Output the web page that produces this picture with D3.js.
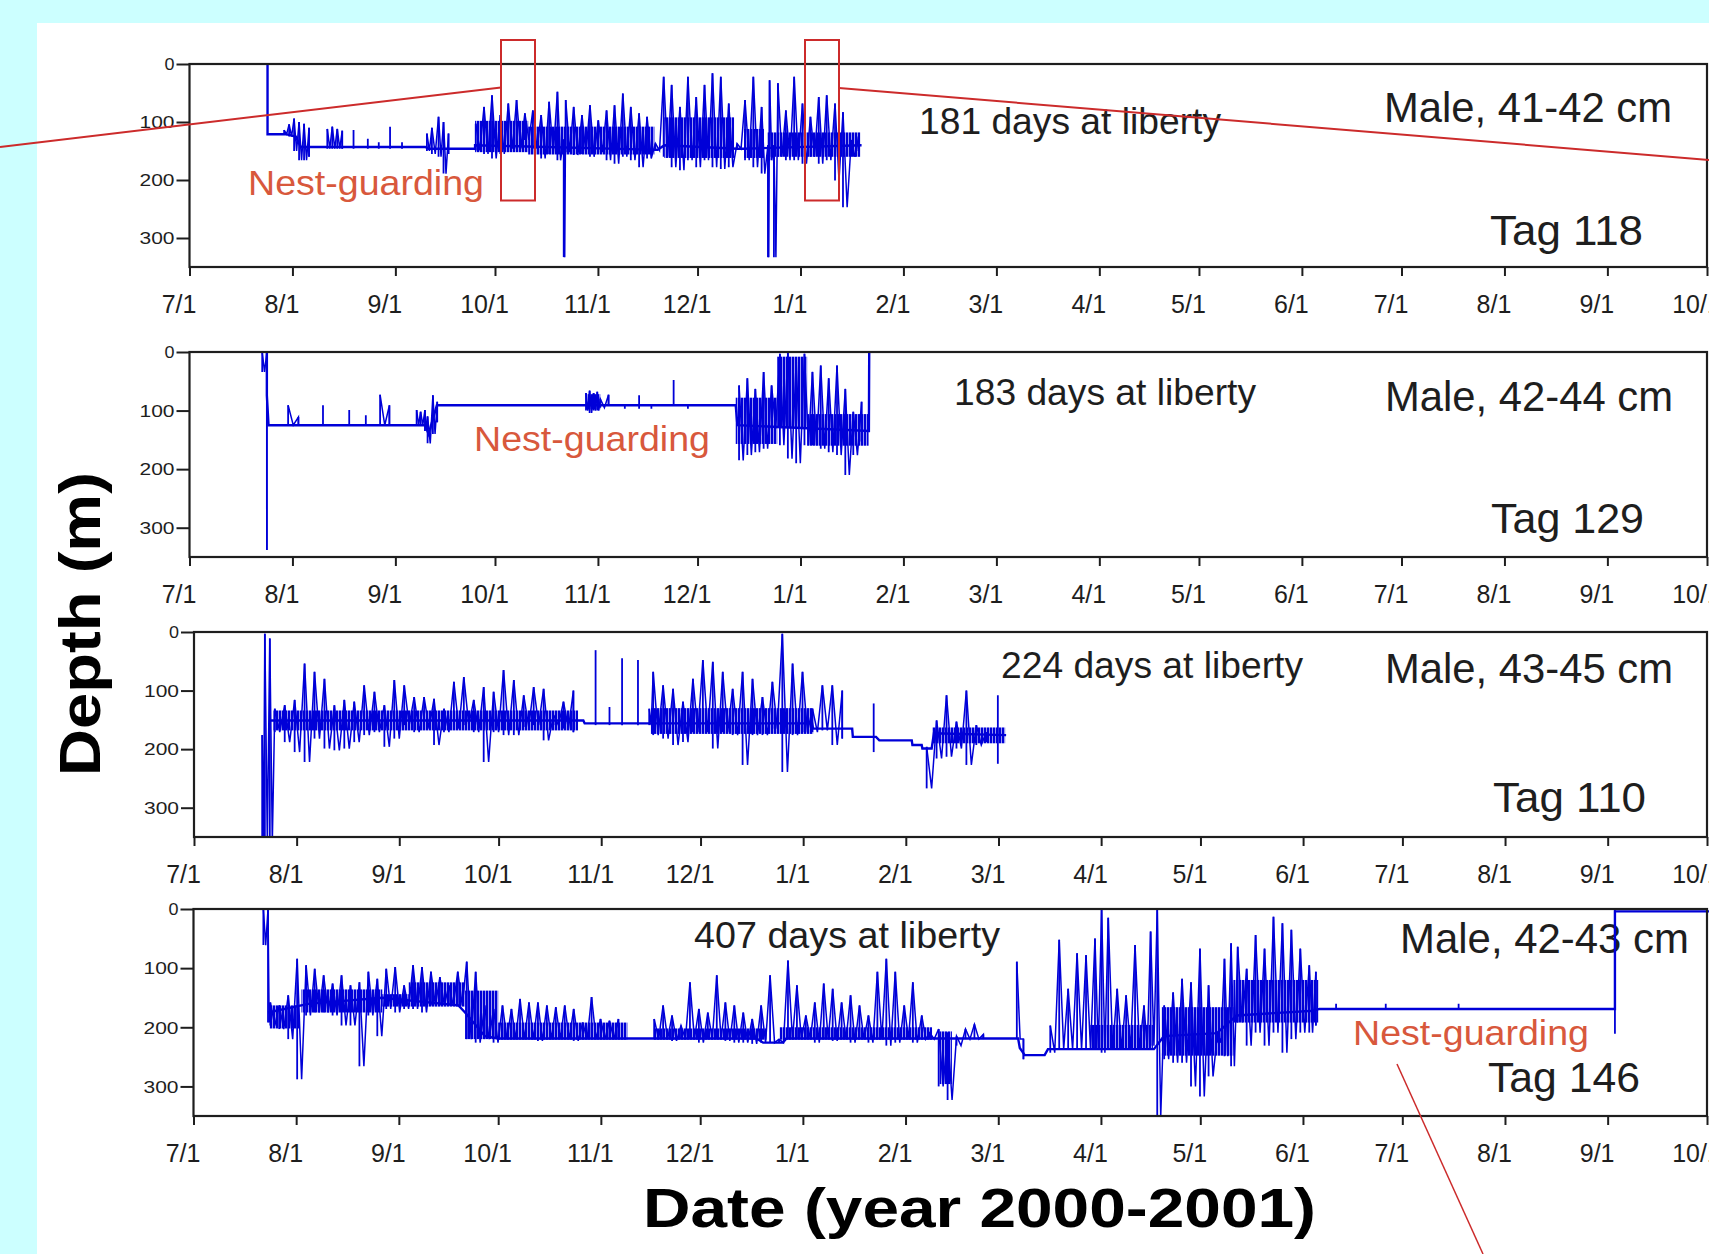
<!DOCTYPE html>
<html>
<head>
<meta charset="utf-8">
<script src="https://cdn.jsdelivr.net/npm/d3@7.9.0/dist/d3.min.js"></script>
<style>
  html, body { margin: 0; padding: 0; background: #ccffff; overflow: hidden; }
  text { font-family: "Liberation Sans", Arial, sans-serif; }
</style>
</head>
<body>
<svg id="chart"></svg>
<script>
// days are counted from 1 July 2000, depths in metres
const monthLabels = ["7/1", "8/1", "9/1", "10/1", "11/1", "12/1", "1/1", "2/1", "3/1", "4/1", "5/1", "6/1", "7/1", "8/1", "9/1", "10/1"];
const depthTicks = [0, 100, 200, 300];

// Tag 118 : [day, depth] trace, [day, shallowest, deepest] spikes, [from, to, top, bottom] dense band
const tag118Line = [[23.5, 0], [23.5, 121], [29, 121], [32, 125], [33.5, 143], [71, 143], [72, 146], [86, 146], [86, 140],
  [141, 148], [143, 140], [165, 146], [167, 146], [202.4, 140]];
const tag118Spikes = [[28.5, 114, 121], [30, 104, 125], [31.5, 94, 150], [33, 100, 166], [34.5, 103, 166], [36, 110, 160],
  [41.5, 112, 146], [43, 108, 146], [44.5, 112, 146], [46, 115, 146], [49.4, 114, 146], [53.7, 129, 146], [57, 135, 146],
  [60.4, 108, 146], [64, 135, 146], [71.5, 120, 150], [73, 110, 155], [75, 91, 160], [76.5, 100, 189], [78, 120, 155],
  [86.2, 103, 149], [88.7, 74, 155], [91.1, 54, 163], [93.6, 88, 155], [96, 68, 146], [98.5, 62, 146], [101, 85, 131],
  [103.4, 80, 146], [105.9, 88, 163], [108.3, 65, 155], [110.8, 48, 166], [112.7, 130, 333], [113.3, 62, 152],
  [115.7, 74, 157], [118.2, 88, 155], [120.6, 71, 160], [123.1, 97, 152], [125.6, 80, 166], [128, 71, 172],
  [130.5, 51, 160], [132.9, 74, 166], [135.4, 85, 178], [137.8, 91, 163], [140.3, 137, 149], [142.8, 22, 160],
  [145.2, 36, 178], [147.7, 74, 183], [150.1, 22, 166], [152.6, 57, 178], [155.1, 36, 166], [157.5, 16, 178],
  [160, 22, 181], [162.4, 68, 178], [164.9, 137, 146], [167.3, 62, 166], [169.8, 22, 178], [172.3, 74, 189],
  [174.2, 140, 333], [174.7, 28, 166], [176, 140, 333], [177.2, 33, 160], [179.6, 80, 166], [182.1, 22, 166],
  [184.6, 68, 172], [187, 91, 160], [189.5, 57, 172], [191.9, 54, 166], [194.4, 68, 201], [196.8, 83, 247],
  [199.3, 131, 160], [201.5, 125, 150]];
const tag118Band = [[86, 102, 98, 152], [102, 140, 108, 156], [143, 164, 92, 162], [167, 173, 112, 162], [174, 202, 118, 160]];

// Tag 129
const tag129Line = [[23.3, 0], [23.3, 74], [23.8, 125], [71, 125], [72, 140], [74.5, 91], [164.5, 91], [165, 125],
  [204.6, 135], [204.7, 0]];
const tag129Spikes = [[21.9, 0, 34], [23.3, 0, 338], [29.7, 91, 125], [32.8, 111, 125], [40.2, 91, 125], [48.1, 99, 125],
  [53.1, 108, 125], [57.4, 73, 125], [60.2, 91, 125], [68.4, 99, 125], [69.6, 102, 125], [70.9, 99, 135],
  [71.7, 110, 156], [73.3, 74, 140], [74.6, 85, 120], [119.4, 70, 100], [120.5, 66, 104], [121.7, 70, 100],
  [122.8, 68, 100], [123.7, 80, 95], [126.2, 73, 91], [131.1, 91, 97], [135.4, 74, 97], [139.1, 91, 97],
  [145.8, 48, 91], [150.1, 91, 97], [165.5, 57, 185], [168, 45, 176], [170.4, 63, 171], [172.9, 34, 165],
  [175.3, 57, 131], [177.8, 3, 159], [180.2, 0, 182], [182.7, 17, 190], [185.2, 3, 159], [187.6, 34, 159],
  [190.1, 23, 165], [192.5, 45, 171], [195, 23, 176], [197.5, 63, 210], [199.9, 102, 176], [202.4, 85, 153]];
const tag129Band = [[119.4, 123.7, 72, 98], [164.5, 177, 78, 157], [177, 186, 8, 130], [186, 204.5, 106, 160]];

// Tag 110
const tag110Line = [[22.9, 151], [117.6, 151], [118, 156], [186.7, 156], [187, 165], [198.8, 165], [199, 179],
  [206, 179], [207, 185], [216.8, 185], [217, 193], [219.8, 193], [220, 199], [222.8, 199], [223.5, 173], [245.3, 176]];
const tag110Spikes = [[20.6, 176, 360], [21.4, 3, 360], [22.9, 11, 360], [24.4, 131, 171], [27.4, 125, 188],
  [30.4, 116, 205], [33.4, 54, 222], [36.4, 68, 182], [39.4, 80, 199], [42.4, 125, 202], [45.4, 116, 199],
  [48.4, 119, 188], [51.4, 91, 176], [54.5, 102, 171], [57.5, 125, 196], [60.5, 82, 182], [63.5, 91, 159],
  [66.5, 111, 171], [69.5, 111, 165], [72.5, 114, 193], [75.5, 131, 171], [78.5, 85, 165], [81.5, 77, 159],
  [84.5, 116, 171], [87.5, 94, 222], [90.5, 102, 171], [93.5, 65, 176], [96.6, 82, 176], [99.6, 108, 162],
  [102.6, 94, 159], [105.6, 97, 185], [108.6, 142, 159], [111.6, 119, 165], [114.6, 100, 171], [121.3, 31, 159],
  [125.5, 128, 159], [129.3, 45, 159], [134.1, 48, 159], [137.5, 131, 159], [138.7, 68, 176],
  [141.7, 91, 182], [144.7, 97, 193], [147.7, 119, 188], [150.7, 80, 171], [153.7, 48, 171], [156.7, 51, 199],
  [159.7, 68, 171], [162.7, 97, 176], [165.7, 68, 227], [168.7, 80, 176], [171.7, 111, 176], [174.7, 85, 165],
  [177.7, 3, 239], [180.8, 54, 176], [183.8, 68, 171], [186.8, 131, 171], [189.8, 91, 168], [192.8, 91, 193],
  [195.8, 100, 182], [205.3, 122, 205], [221.3, 196, 267], [224.3, 151, 216], [227.3, 108, 213], [230.3, 153, 199],
  [233.3, 100, 227], [236.3, 159, 193], [239.3, 171, 188], [242.8, 108, 225]];
const tag110Band = [[24, 116, 134, 168], [138, 187, 130, 174], [223, 245, 163, 190]];

// Tag 146
const tag146Line = [[22.5, 175], [35, 160], [57, 150], [80, 163], [82, 175], [88, 215], [92, 219], [170, 219],
  [172, 226], [178, 226], [179, 219], [249, 219], [249.5, 235], [251, 247], [257, 247], [258, 237], [290, 237],
  [293, 215], [309, 210], [315, 180], [338, 172], [340, 169], [429.2, 169], [429.2, 4], [470, 4]];
const tag146Spikes = [[21.1, 0, 61], [22.5, 0, 192], [23.2, 158, 197], [25.9, 163, 203], [28.6, 146, 220],
  [31.3, 84, 288], [34, 95, 180], [36.6, 101, 175], [39.3, 112, 175], [42, 126, 180], [44.7, 112, 197],
  [47.4, 129, 197], [50.1, 124, 266], [52.8, 106, 180], [55.5, 118, 215], [58.2, 101, 169], [60.9, 98, 175],
  [63.6, 129, 169], [66.3, 95, 169], [69, 98, 175], [71.7, 106, 163], [74.4, 115, 163], [77.1, 129, 163],
  [79.8, 106, 163], [82.5, 89, 220], [85.2, 106, 226], [87.9, 163, 220], [90.6, 169, 226], [93.3, 163, 220],
  [96, 169, 220], [98.6, 152, 220], [101.3, 158, 220], [104, 158, 223], [106.7, 163, 220], [109.4, 166, 220],
  [112.1, 163, 220], [114.8, 169, 223], [117.5, 192, 220], [120.2, 149, 220], [122.9, 186, 220], [125.6, 189, 220],
  [128.3, 186, 220], [139.1, 186, 220], [141.8, 163, 220], [144.5, 180, 223], [147.2, 197, 220], [149.9, 124, 220],
  [152.6, 169, 226], [155.3, 175, 220], [158, 112, 220], [160.6, 158, 223], [163.3, 163, 226], [166, 175, 226],
  [168.7, 186, 228], [171.4, 163, 226], [174.1, 112, 226], [176.8, 220, 226], [179.5, 87, 220], [182.2, 129, 220],
  [184.9, 180, 220], [187.6, 158, 226], [190.3, 126, 220], [193, 135, 223], [195.7, 158, 220], [198.4, 146, 226],
  [201.1, 163, 220], [203.8, 180, 226], [206.5, 106, 220], [209.2, 84, 231], [211.9, 106, 226], [214.6, 163, 220],
  [217.2, 124, 226], [219.9, 180, 220], [222.3, 209, 220], [225, 203, 300], [227.7, 209, 323], [230.4, 215, 231],
  [233.1, 203, 220], [235.8, 195, 220], [238.5, 212, 220], [248.6, 89, 220], [250.6, 220, 254], [258.7, 197, 243],
  [261.4, 52, 237], [264.1, 135, 237], [266.8, 75, 237], [269.5, 78, 237], [272.2, 50, 237], [274.2, 0, 243],
  [276.2, 15, 237], [278.9, 135, 237], [281.6, 146, 237], [284.3, 61, 237], [287, 163, 237], [289, 38, 231],
  [291, 0, 352], [293.1, 163, 254], [295.8, 141, 260], [298.5, 118, 260], [301.2, 124, 300], [303.9, 67, 317],
  [306.5, 129, 283], [309.2, 209, 226], [311.3, 84, 249], [313.3, 58, 266], [315.3, 64, 192], [318, 101, 231],
  [320.7, 44, 209], [323.4, 67, 231], [326.1, 13, 209], [328.8, 24, 243], [331.5, 35, 220], [334.2, 67, 209],
  [336.9, 95, 209], [338.9, 106, 197], [345, 160, 169], [360, 160, 169], [382, 160, 169], [429.2, 0, 211]];
const tag146Band = [[23, 32, 163, 202], [32.6, 57, 136, 175], [57, 65, 144, 165], [65, 82, 124, 165], [82, 92, 138, 220],
  [92, 131, 192, 221], [139, 173, 202, 221], [177, 223, 200, 221], [225.3, 229, 207, 296], [270.8, 289.7, 196, 238],
  [292.4, 314, 166, 248], [314, 339.6, 120, 192]];

const W = 1709, H = 1254, RIGHT = 1707;
const blue = "#0000d8", red = "#cc2b2b", noteRed = "#d8583c", ink = "#1e1e1e";

const panels = [
  { line: tag118Line, spikes: tag118Spikes, band: tag118Band, left: 189.5, top: 64, bottom: 267,
    notes: [["181 days at liberty", 919, 134, 302, 36], ["Male, 41-42 cm", 1384, 122, 288, 42], ["Tag 118", 1490, 245, 153, 42]],
    nest: [248, 195] },
  { line: tag129Line, spikes: tag129Spikes, band: tag129Band, left: 189.5, top: 352, bottom: 557,
    notes: [["183 days at liberty", 954, 405, 302, 36], ["Male, 42-44 cm", 1385, 411, 288, 42], ["Tag 129", 1491, 533, 153, 42]],
    nest: [474, 451] },
  { line: tag110Line, spikes: tag110Spikes, band: tag110Band, left: 194, top: 632, bottom: 837,
    notes: [["224 days at liberty", 1001, 678, 302, 36], ["Male, 43-45 cm", 1385, 683, 288, 42], ["Tag 110", 1493, 812, 153, 42]],
    nest: null },
  { line: tag146Line, spikes: tag146Spikes, band: tag146Band, left: 193.5, top: 909, bottom: 1116,
    notes: [["407 days at liberty", 694, 948, 306, 36], ["Male, 42-43 cm", 1400, 953, 289, 42], ["Tag 146", 1488, 1092, 152, 42]],
    nest: [1353, 1045] }
];

const svg = d3.select("#chart").attr("width", W).attr("height", H);
svg.append("rect").attr("width", W).attr("height", H).attr("fill", "#ccffff");
svg.append("rect").attr("x", 37).attr("y", 23).attr("width", W - 37).attr("height", H - 23).attr("fill", "#ffffff");

// dense recording shows as packed vertical strokes
svg.append("defs").append("pattern").attr("id", "dense")
  .attr("width", 3).attr("height", 6).attr("patternUnits", "userSpaceOnUse")
  .append("rect").attr("width", 2.4).attr("height", 6).attr("fill", blue);

const start = Date.UTC(2000, 6, 1);
const toDate = d => new Date(start + d * 864e5);
const monthDates = d3.utcMonth.range(new Date(start), new Date(Date.UTC(2001, 9, 2)));

// spikes closer than this many days are joined as one saw-tooth trace
const JOIN_GAP = 3.2;

panels.forEach((p, pi) => {
  const x = d3.scaleUtc().domain([new Date(start), new Date(Date.UTC(2001, 9, 1))]).range([p.left, RIGHT]);
  const y = d3.scaleLinear().domain([0, 350]).range([p.top, p.bottom]);
  const g = svg.append("g");

  g.append("clipPath").attr("id", "clip" + pi)
    .append("rect").attr("x", p.left).attr("y", p.top - 1)
    .attr("width", RIGHT - p.left + 2).attr("height", p.bottom - p.top + 1);

  // text notes
  p.notes.forEach(n => {
    g.append("text").text(n[0]).attr("x", n[1]).attr("y", n[2])
      .attr("font-size", n[4]).attr("fill", ink)
      .attr("textLength", n[3]).attr("lengthAdjust", "spacingAndGlyphs");
  });
  if (p.nest) {
    g.append("text").text("Nest-guarding").attr("x", p.nest[0]).attr("y", p.nest[1])
      .attr("font-size", 35).attr("fill", noteRed)
      .attr("textLength", 236).attr("lengthAdjust", "spacingAndGlyphs");
  }

  const plot = g.append("g").attr("clip-path", `url(#clip${pi})`);

  plot.selectAll("rect.band").data(p.band).join("rect")
    .attr("class", "band")
    .attr("x", d => x(toDate(d[0])))
    .attr("width", d => x(toDate(d[1])) - x(toDate(d[0])))
    .attr("y", d => y(d[2]))
    .attr("height", d => y(d[3]) - y(d[2]))
    .attr("fill", "url(#dense)");

  plot.append("path").datum(p.line)
    .attr("d", d3.line().x(d => x(toDate(d[0]))).y(d => y(d[1])))
    .attr("fill", "none").attr("stroke", blue).attr("stroke-width", 2.4);

  // saw-tooth between consecutive spikes
  const sorted = p.spikes.slice().sort((a, b) => a[0] - b[0]);
  const runs = [];
  let run = [];
  sorted.forEach((s, i) => {
    const next = sorted[i + 1];
    const gap = next ? next[0] - s[0] : Infinity;
    const half = gap <= JOIN_GAP ? gap / 2 : 0;
    run.push([s[0], s[1]], [s[0] + half, s[2]]);
    if (gap > JOIN_GAP) { runs.push(run); run = []; }
  });
  plot.selectAll("path.saw").data(runs.filter(r => r.length > 2)).join("path")
    .attr("class", "saw")
    .attr("d", d3.line().x(d => x(toDate(d[0]))).y(d => y(d[1])))
    .attr("fill", "none").attr("stroke", blue).attr("stroke-width", 1.5);

  plot.selectAll("line.spike").data(sorted).join("line")
    .attr("class", "spike")
    .attr("x1", d => x(toDate(d[0]))).attr("x2", d => x(toDate(d[0])))
    .attr("y1", d => y(d[1])).attr("y2", d => y(d[2]))
    .attr("stroke", blue).attr("stroke-width", 1.8);

  // frame
  g.append("rect").attr("x", p.left).attr("y", p.top)
    .attr("width", RIGHT - p.left).attr("height", p.bottom - p.top)
    .attr("fill", "none").attr("stroke", ink).attr("stroke-width", 2.2);

  const xAxis = g.append("g").attr("transform", `translate(0,${p.bottom})`)
    .call(d3.axisBottom(x).tickValues(monthDates).tickSize(9).tickSizeOuter(0)
      .tickFormat((d, i) => monthLabels[i]));
  xAxis.select(".domain").remove();
  xAxis.selectAll("line").attr("stroke", ink).attr("stroke-width", 2);
  xAxis.selectAll("text").attr("font-size", 25).attr("font-family", "Liberation Sans, Arial, sans-serif")
    .attr("fill", ink).attr("x", -11).attr("y", 46).attr("dy", 0);

  const yAxis = g.append("g").attr("transform", `translate(${p.left},0)`)
    .call(d3.axisLeft(y).tickValues(depthTicks).tickSize(13).tickPadding(2).tickSizeOuter(0));
  yAxis.select(".domain").remove();
  yAxis.selectAll("line").attr("stroke", ink).attr("stroke-width", 2);
  yAxis.selectAll("text").attr("font-size", 16).attr("font-family", "Liberation Sans, Arial, sans-serif")
    .attr("fill", ink).attr("dy", "0.36em")
    .attr("textLength", d => d === 0 ? 10 : 35).attr("lengthAdjust", "spacingAndGlyphs");
});

// axis titles
svg.append("text").text("Date (year 2000-2001)").attr("x", 643).attr("y", 1227)
  .attr("font-size", 55).attr("font-weight", "bold").attr("fill", "#000")
  .attr("textLength", 673).attr("lengthAdjust", "spacingAndGlyphs");
svg.append("text").text("Depth (m)")
  .attr("transform", "translate(100,624) rotate(-90)")
  .attr("text-anchor", "middle")
  .attr("font-size", 58).attr("font-weight", "bold").attr("fill", "#000")
  .attr("textLength", 304).attr("lengthAdjust", "spacingAndGlyphs");

// red call-out boxes and lines over the first and last panel
const over = svg.append("g").attr("fill", "none").attr("stroke", red).attr("stroke-width", 2);
over.append("rect").attr("x", 501).attr("y", 40).attr("width", 34).attr("height", 160.5);
over.append("rect").attr("x", 805).attr("y", 40).attr("width", 34).attr("height", 160.5);
over.append("line").attr("x1", 0).attr("y1", 147).attr("x2", 501).attr("y2", 87.5);
over.append("line").attr("x1", 839).attr("y1", 88).attr("x2", W).attr("y2", 160);
over.append("line").attr("x1", 1397).attr("y1", 1064).attr("x2", 1483).attr("y2", 1254).attr("stroke-width", 1.5);
</script>
</body>
</html>
